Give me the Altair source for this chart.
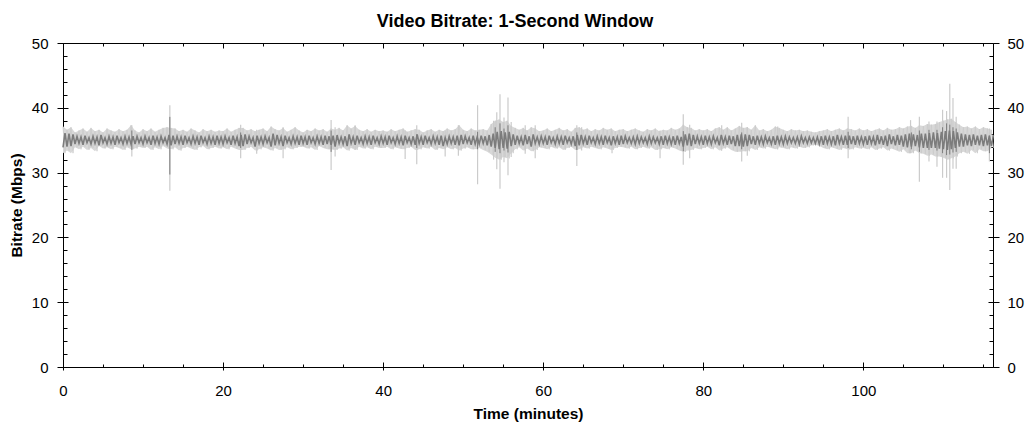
import altair as alt
import pandas as pd

# Band envelope of the 1-second series, per half-minute bin (Mbps)
light_hi = [
    37.1, 36.6, 37.0, 36.2, 36.5, 36.8, 36.3, 36.9, 36.4, 36.6, 36.2, 36.8, 36.5, 36.3, 36.7, 36.4, 36.6, 37.3, 36.5, 36.2,
    36.7, 36.4, 36.8, 36.3, 36.6, 36.9, 37.0, 36.9, 36.8, 36.4, 36.6, 36.3, 36.8, 36.5, 36.2, 36.7, 36.4, 36.6, 36.3, 36.5,
    36.4, 36.8, 36.3, 36.6, 36.9, 36.9, 36.5, 36.7, 36.4, 36.6, 36.8, 36.4, 37.1, 36.7, 36.5, 36.9, 36.3, 36.6, 37.0, 36.5,
    36.2, 36.6, 36.4, 36.8, 36.5, 36.7, 36.3, 36.8, 36.6, 36.9, 36.5, 37.3, 36.8, 37.2, 36.6, 36.4, 36.7, 36.3, 36.6, 36.4,
    36.5, 36.3, 36.7, 36.4, 36.6, 36.8, 36.3, 36.5, 36.7, 36.6, 36.2, 36.5, 36.7, 36.3, 36.6, 36.4, 36.8, 36.5, 36.7, 37.3,
    36.6, 36.4, 36.8, 36.5, 36.6, 36.7, 36.5, 37.5, 38.0, 38.2, 37.8, 38.0, 37.2, 36.9, 36.6, 36.9, 36.5, 37.0, 36.8, 36.4,
    36.5, 36.8, 36.4, 36.6, 36.9, 36.5, 36.7, 36.3, 36.9, 37.0, 36.6, 36.8, 36.4, 36.7, 36.5, 36.9, 36.6, 36.8, 36.4, 36.6,
    36.7, 36.4, 36.6, 36.8, 36.5, 36.3, 36.7, 36.5, 36.8, 36.4, 36.6, 36.5, 36.9, 36.6, 36.8, 37.4, 37.0, 36.9, 36.5, 36.7,
    36.5, 36.7, 36.4, 36.8, 37.0, 36.6, 37.0, 36.5, 36.8, 37.2, 36.9, 37.0, 36.6, 37.3, 36.5, 36.7, 36.4, 36.6, 37.1, 36.9,
    36.6, 36.4, 36.7, 36.5, 36.6, 36.4, 36.5, 36.3, 36.2, 36.4, 36.5, 36.7, 36.4, 36.6, 36.8, 36.5, 36.8, 36.7, 36.5, 36.8,
    36.5, 36.7, 36.4, 36.6, 36.8, 36.5, 36.9, 36.6, 36.7, 37.0, 36.8, 37.1, 37.2, 36.9, 37.3, 37.2, 37.5, 37.4, 37.5, 37.8,
    38.0, 38.2, 38.3, 37.8, 37.4, 37.0, 37.1, 36.8, 37.1, 36.7, 37.0, 36.8, 36.6,
]
light_lo = [
    33.0, 33.4, 33.0, 33.9, 33.6, 34.0, 33.5, 33.8, 33.3, 34.1, 33.7, 33.9, 33.6, 34.0, 33.8, 33.5, 33.9, 33.6, 33.7, 34.0,
    33.8, 34.0, 33.5, 33.9, 33.6, 34.1, 33.7, 33.6, 33.9, 33.4, 33.8, 34.0, 33.7, 33.5, 33.9, 34.1, 33.6, 33.8, 34.0, 33.7,
    33.9, 33.6, 34.0, 33.7, 33.5, 33.5, 33.8, 34.0, 33.4, 33.6, 33.9, 33.7, 33.4, 33.8, 33.5, 33.6, 33.9, 33.6, 33.8, 34.0,
    34.0, 33.7, 33.9, 33.5, 34.1, 33.8, 33.6, 33.6, 33.5, 33.7, 33.9, 33.4, 33.8, 33.5, 34.0, 33.7, 33.9, 33.6, 34.0, 33.8,
    33.8, 34.0, 33.6, 33.9, 33.7, 33.6, 33.8, 34.0, 33.5, 33.6, 33.9, 33.7, 34.0, 33.5, 33.8, 33.6, 33.9, 33.6, 33.8, 33.4,
    33.7, 33.9, 33.6, 33.6, 33.8, 33.5, 33.2, 32.8, 32.3, 32.0, 32.4, 32.2, 33.0, 33.6, 33.9, 33.4, 33.7, 33.3, 33.5, 33.9,
    33.8, 33.6, 34.0, 33.7, 33.9, 33.5, 33.8, 34.0, 33.5, 33.6, 33.9, 33.7, 34.0, 33.8, 33.6, 33.9, 33.7, 33.5, 33.8, 34.0,
    33.9, 33.7, 34.0, 33.6, 33.8, 34.0, 33.7, 33.9, 33.5, 33.6, 33.8, 33.6, 33.9, 33.7, 33.4, 33.2, 33.4, 33.5, 33.8, 33.6,
    33.8, 34.0, 33.6, 33.9, 33.4, 33.7, 33.9, 33.5, 33.2, 33.2, 33.3, 33.3, 33.8, 33.5, 33.9, 33.7, 34.0, 33.8, 33.6, 33.9,
    33.8, 33.6, 33.9, 33.7, 34.0, 33.8, 33.9, 34.2, 34.3, 34.1, 33.8, 33.6, 33.9, 33.7, 33.5, 33.8, 33.6, 33.6, 33.9, 33.7,
    33.8, 33.6, 33.9, 33.5, 33.7, 33.9, 33.4, 33.7, 33.5, 33.2, 33.6, 33.0, 33.0, 33.4, 33.0, 32.9, 32.6, 32.8, 32.5, 32.5,
    32.3, 32.0, 32.2, 32.5, 33.0, 33.2, 32.9, 33.5, 33.0, 33.6, 33.3, 33.3, 33.8,
]

# Band envelope of the darker (smoother) series, same bins
dark_hi = [
    36.1, 36.0, 35.9, 35.6, 35.5, 35.7, 35.4, 35.6, 35.5, 35.8, 35.4, 35.6, 35.5, 35.7, 35.4, 35.6, 35.5, 35.6, 35.6, 35.4,
    35.6, 35.4, 35.7, 35.5, 35.6, 35.4, 35.8, 35.7, 35.6, 35.5, 35.7, 35.4, 35.6, 35.5, 35.7, 35.4, 35.6, 35.5, 35.7, 35.5,
    35.6, 35.4, 35.7, 35.5, 35.8, 35.9, 35.6, 35.4, 35.7, 35.5, 35.6, 35.4, 36.0, 35.8, 35.5, 35.7, 35.4, 35.6, 35.5, 35.7,
    35.5, 35.7, 35.4, 35.6, 35.5, 35.7, 35.6, 35.7, 35.8, 35.5, 35.6, 35.9, 35.5, 35.7, 35.4, 35.6, 35.5, 35.7, 35.4, 35.6,
    35.5, 35.7, 35.4, 35.6, 35.5, 35.7, 35.4, 35.6, 35.9, 35.5, 35.7, 35.4, 35.6, 35.5, 35.7, 35.4, 35.6, 35.5, 35.7, 35.8,
    35.6, 35.4, 35.7, 35.5, 35.7, 35.6, 35.8, 36.0, 36.3, 36.4, 36.2, 36.3, 35.9, 35.7, 35.5, 35.8, 35.6, 35.9, 35.5, 35.6,
    35.5, 35.7, 35.4, 35.6, 35.5, 35.7, 35.4, 35.6, 35.8, 35.8, 35.5, 35.7, 35.4, 35.6, 35.5, 35.7, 35.4, 35.6, 35.5, 35.7,
    35.6, 35.4, 35.5, 35.6, 35.5, 35.4, 35.6, 35.5, 35.4, 35.6, 35.7, 35.5, 35.6, 35.7, 35.5, 35.9, 36.0, 35.8, 35.6, 35.5,
    35.7, 35.5, 35.6, 35.4, 35.8, 35.5, 35.7, 35.6, 35.8, 35.9, 35.9, 35.8, 35.6, 35.7, 35.5, 35.6, 35.4, 35.6, 35.7, 35.5,
    35.6, 35.5, 35.4, 35.5, 35.6, 35.4, 35.5, 35.4, 35.5, 35.6, 35.7, 35.5, 35.6, 35.8, 35.5, 35.7, 35.7, 35.6, 35.7, 35.5,
    35.6, 35.7, 35.5, 35.8, 35.6, 35.7, 35.9, 35.6, 35.8, 35.7, 35.9, 36.0, 35.9, 35.8, 36.0, 36.0, 36.1, 36.2, 36.1, 36.3,
    36.4, 36.5, 36.4, 36.2, 36.0, 35.9, 35.8, 35.9, 35.7, 35.8, 35.9, 35.7, 35.8,
]
dark_lo = [
    33.9, 34.0, 34.1, 34.4, 34.5, 34.3, 34.6, 34.4, 34.5, 34.2, 34.6, 34.4, 34.5, 34.3, 34.6, 34.4, 34.5, 34.4, 34.4, 34.6,
    34.4, 34.6, 34.3, 34.5, 34.4, 34.6, 34.4, 34.2, 34.4, 34.5, 34.3, 34.6, 34.4, 34.5, 34.3, 34.6, 34.4, 34.5, 34.3, 34.5,
    34.4, 34.6, 34.3, 34.5, 34.1, 34.1, 34.4, 34.6, 34.0, 34.5, 34.4, 34.6, 34.0, 34.2, 34.5, 34.1, 34.6, 34.4, 34.5, 34.3,
    34.5, 34.3, 34.6, 34.4, 34.5, 34.3, 34.4, 34.3, 34.0, 34.5, 34.4, 34.1, 34.5, 34.3, 34.6, 34.4, 34.5, 34.3, 34.6, 34.4,
    34.5, 34.3, 34.6, 34.4, 34.5, 34.2, 34.6, 34.4, 34.3, 34.5, 34.3, 34.6, 34.4, 34.5, 34.3, 34.1, 34.4, 34.5, 34.3, 34.2,
    34.4, 34.6, 34.3, 34.4, 34.4, 34.5, 34.2, 34.0, 33.8, 33.6, 33.8, 33.7, 34.1, 34.3, 34.5, 34.2, 34.4, 34.0, 34.5, 34.4,
    34.5, 34.3, 34.6, 34.4, 34.5, 34.3, 34.6, 34.4, 34.1, 34.2, 34.5, 34.3, 34.6, 34.4, 34.5, 34.3, 34.6, 34.2, 34.5, 34.3,
    34.4, 34.6, 34.5, 34.4, 34.5, 34.6, 34.4, 34.5, 34.6, 34.4, 34.3, 34.5, 34.4, 34.3, 34.5, 34.0, 34.2, 34.1, 34.4, 34.5,
    34.3, 34.5, 34.4, 34.6, 34.2, 34.5, 34.3, 34.4, 34.1, 34.1, 34.0, 34.1, 34.4, 34.3, 34.5, 34.4, 34.6, 34.4, 34.3, 34.5,
    34.4, 34.5, 34.6, 34.5, 34.4, 34.6, 34.5, 34.6, 34.5, 34.4, 34.3, 34.5, 34.4, 34.2, 34.5, 34.3, 34.3, 34.4, 34.3, 34.5,
    34.4, 34.3, 34.5, 34.2, 34.4, 34.3, 34.1, 34.4, 34.2, 34.3, 34.0, 33.9, 34.0, 34.1, 33.9, 33.8, 33.8, 33.8, 33.8, 33.7,
    33.6, 33.5, 33.6, 33.8, 34.0, 34.0, 34.2, 34.1, 34.3, 34.2, 34.1, 34.2, 34.1,
]

# Isolated spikes of the 1-second series: minute, top, bottom (Mbps)
light_spike_min = [8.6, 13.35, 22.2, 24.2, 27.5, 33.5, 34.0, 36.5, 42.75, 44.2, 47.75, 49.4, 51.8, 53.8, 54.2, 54.6,
                   55.1, 55.6, 56.0, 57.75, 59.0, 64.2, 64.8, 68.6, 74.6, 77.5, 78.3, 82.3, 84.8, 85.5, 89.3, 98.1,
                   105.9, 107.0, 108.2, 109.2, 109.9, 110.4, 110.8, 111.2, 111.6, 115.75]
light_spike_top = [37.3, 40.4, 37.4, 36.6, 37.0, 38.1, 37.0, 37.3, 36.5, 37.3, 36.5, 37.3, 40.4, 38.0, 39.3, 42.1,
                   38.5, 41.6, 37.8, 37.3, 37.3, 37.3, 37.0, 36.5, 36.5, 39.0, 37.4, 37.3, 37.7, 37.0, 37.1, 38.6,
                   38.1, 38.6, 37.9, 37.9, 39.7, 39.5, 43.7, 41.5, 38.6, 36.8]
light_spike_bot = [32.5, 27.2, 32.2, 32.9, 32.2, 30.4, 32.5, 33.5, 32.1, 31.3, 32.5, 32.6, 28.2, 32.0, 30.5, 27.5,
                   31.6, 29.6, 32.4, 32.9, 32.2, 31.0, 33.4, 33.0, 32.2, 31.2, 32.2, 33.4, 31.7, 32.6, 33.6, 32.2,
                   33.0, 28.6, 31.7, 30.9, 29.2, 29.2, 27.3, 30.6, 30.6, 31.7]

# Spikes of the darker series
dark_spike_min = [8.6, 13.35, 22.2, 33.5, 44.2, 51.8, 54.0, 54.6, 55.1, 55.6, 64.2, 77.5, 84.8, 98.1,
                  106.0, 107.0, 108.2, 109.2, 109.9, 110.4, 110.8, 111.2, 111.6, 115.75]
dark_spike_top = [36.5, 38.6, 36.2, 36.5, 35.9, 36.3, 37.0, 37.6, 36.8, 37.3, 36.2, 36.4, 36.2, 36.3,
                  36.2, 36.5, 36.6, 36.6, 37.0, 37.6, 37.4, 37.0, 36.8, 35.7]
dark_spike_bot = [33.5, 29.7, 33.8, 33.2, 33.8, 33.6, 33.2, 33.0, 33.4, 33.1, 33.5, 33.3, 33.6, 33.8,
                  33.6, 33.2, 33.5, 33.4, 33.0, 32.7, 32.8, 33.1, 33.2, 33.0]

for name, arr in [("light_hi", light_hi), ("light_lo", light_lo), ("dark_hi", dark_hi), ("dark_lo", dark_lo)]:
    if len(arr) != 233:
        raise SystemExit(f"{name} has {len(arr)} values")

bin_minutes = 0.5
x_major = [0, 20, 40, 60, 80, 100]
x_minor = list(range(0, 120, 5))
y_major = [0, 10, 20, 30, 40, 50]
y_minor = list(range(0, 52, 2))

band = pd.DataFrame({
    "minute": [i * bin_minutes for i in range(len(light_hi))],
    "light_hi": light_hi, "light_lo": light_lo,
})
# the same envelopes traced as a rapidly alternating trace (upper then lower value in each bin)
rows = []
for i in range(len(light_hi)):
    t = i * bin_minutes
    rows.append({"minute": t, "light": light_hi[i], "dark": dark_lo[i]})
    rows.append({"minute": t + bin_minutes / 2, "light": light_lo[i], "dark": dark_hi[i]})
trace = pd.DataFrame(rows)
lspk = pd.DataFrame({"minute": light_spike_min, "top": light_spike_top, "bot": light_spike_bot})
dspk = pd.DataFrame({"minute": dark_spike_min, "top": dark_spike_top, "bot": dark_spike_bot})

FONT = "Liberation Sans"
W, H = 930, 324
LIGHT, LIGHT_EDGE, DARK = "#d8d8d8", "#cbcbcb", "#7c7c7c"
xs = alt.Scale(domain=[0, 116.2], nice=False, zero=False)
ys = alt.Scale(domain=[0, 50], nice=False)

common = dict(domainColor="black", tickColor="black", grid=False,
              labelFont=FONT, labelColor="black", titleFont=FONT, titleColor="black")

light_band = alt.Chart(band).mark_area(color=LIGHT, opacity=1).encode(
    x=alt.X("minute:Q", scale=xs, axis=alt.Axis(
        orient="bottom", values=x_major, tickSize=3, labelFontSize=15,
        labelBaseline="alphabetic", labelPadding=25, labelFlush=False,
        title="Time (minutes)", titleFontSize=15.5, titleFontWeight="bold",
        titleX=W / 2, titleY=51, titleBaseline="alphabetic", **common)),
    y=alt.Y("light_lo:Q", scale=ys, axis=alt.Axis(
        orient="left", values=y_major, tickSize=6, labelFontSize=15,
        labelBaseline="middle", labelPadding=9,
        title="Bitrate (Mbps)", titleFontSize=15.5, titleFontWeight="bold",
        titleAngle=270, titleX=-42, titleY=H / 2, titleBaseline="alphabetic", **common)),
    y2="light_hi:Q",
)

light_trace = alt.Chart(trace).mark_line(color=LIGHT_EDGE, strokeWidth=0.8).encode(
    x=alt.X("minute:Q", scale=xs, axis=None),
    y=alt.Y("light:Q", scale=ys, axis=None),
)

light_spikes = alt.Chart(lspk).mark_rule(color=LIGHT_EDGE, strokeWidth=1.2).encode(
    x=alt.X("minute:Q", scale=xs, axis=None),
    y=alt.Y("bot:Q", scale=ys, axis=None),
    y2="top:Q",
)

dark_trace = alt.Chart(trace).mark_line(color=DARK, strokeWidth=1.6).encode(
    x=alt.X("minute:Q", scale=xs, axis=alt.Axis(
        orient="top", ticks=False, labels=False, title=None, **common)),
    y=alt.Y("dark:Q", scale=ys, axis=alt.Axis(
        orient="right", values=y_major, tickSize=6, labelFontSize=15,
        labelBaseline="middle", labelPadding=8, title=None, **common)),
)

dark_spikes = alt.Chart(dspk).mark_rule(color=DARK, strokeWidth=1).encode(
    x=alt.X("minute:Q", scale=xs, axis=None),
    y=alt.Y("bot:Q", scale=ys, axis=None),
    y2="top:Q",
)

x_in = {"condition": {"test": "datum.value % 20 === 0", "value": 5}, "value": 3}
y_in = {"condition": {"test": "datum.value % 10 === 0", "value": 5}, "value": 4}

inner1 = alt.Chart(band).mark_line(opacity=0).encode(
    x=alt.X("minute:Q", scale=xs, axis=alt.Axis(
        orient="bottom", offset=-H, values=x_minor, tickSize=x_in,
        labels=False, domain=False, title=None, tickColor="black", grid=False)),
    y=alt.Y("light_hi:Q", scale=ys, axis=alt.Axis(
        orient="right", offset=-W, values=y_minor, tickSize=y_in,
        labels=False, domain=False, title=None, tickColor="black", grid=False)),
)

inner2 = alt.Chart(band).mark_line(opacity=0).encode(
    x=alt.X("minute:Q", scale=xs, axis=alt.Axis(
        orient="top", offset=-H, values=x_minor, tickSize=x_in,
        labels=False, domain=False, title=None, tickColor="black", grid=False)),
    y=alt.Y("light_hi:Q", scale=ys, axis=alt.Axis(
        orient="left", offset=-W, values=y_minor, tickSize=y_in,
        labels=False, domain=False, title=None, tickColor="black", grid=False)),
)

chart = alt.layer(light_band, light_trace, light_spikes, dark_trace, dark_spikes, inner1, inner2).resolve_axis(
    x="independent", y="independent"
).properties(
    width=W, height=H,
    autosize=alt.AutoSizeParams(type="none"),
    padding={"left": 55, "top": 35, "right": 33, "bottom": 60},
    title=alt.TitleParams(
        "Video Bitrate: 1-Second Window", font=FONT, fontSize=18,
        fontWeight="bold", color="black", anchor="middle", frame="group",
        dx=-13, offset=5),
).configure_view(strokeWidth=0)

chart.save("out.html", embed_options={"renderer": "svg", "actions": False})
